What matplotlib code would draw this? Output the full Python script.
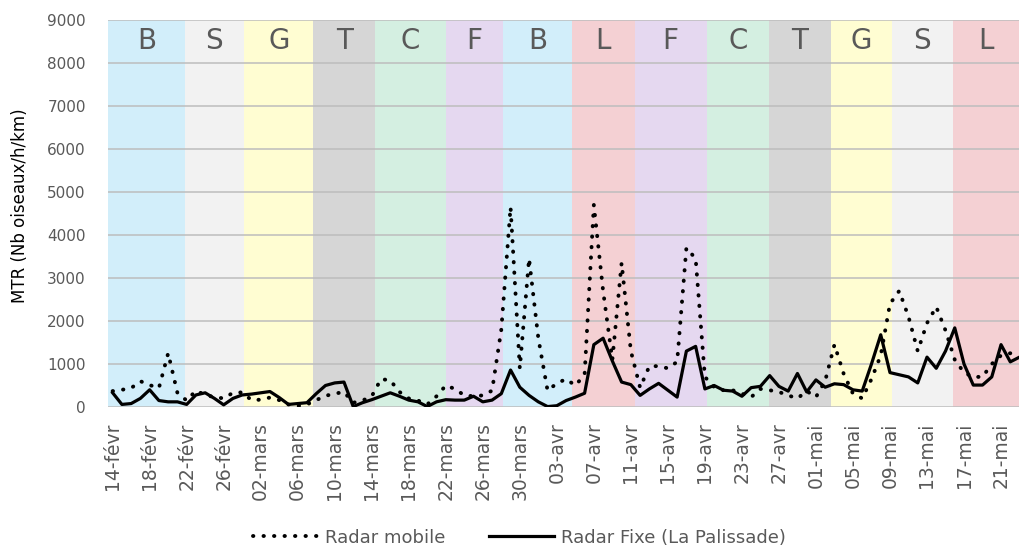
import matplotlib
matplotlib.use("Agg")
import matplotlib.pyplot as plt
import pandas as pd

plt.rcParams.update({
    "font.family": "DejaVu Sans",
    "text.color": "#595959",
    "xtick.color": "#595959",
    "ytick.color": "#595959",
})

# daily series, 14 Feb -> 23 May
start = "2023-02-14"
mobile = [370, 400, 440, 600, 510, 440, 1250, 330, 150, 380,
          280, 230, 200, 330, 340, 160, 170, 220, 160, 60,
          20, 60, 160, 260, 310, 350, 100, 150, 250, 650,
          620, 350, 200, 150, 60, 250, 500, 420, 270, 250,
          270, 380, 1800, 4650, 900, 3450, 1600, 380, 550, 650,
          500, 750, 4700, 2700, 1100, 3350, 1300, 450, 950, 950,
          900, 1050, 3700, 3450, 700, 460, 390, 390, 310, 230,
          420, 390, 350, 270, 200, 370, 230, 610, 1450, 770,
          310, 200, 650, 1200, 2400, 2700, 2100, 1300, 1950, 2330,
          1780, 1100, 800, 700, 700, 1000, 1200, 1250, 1300]
fixe = [330, 60, 80, 200, 400, 150, 120, 120, 60, 280,
        330, 200, 50, 200, 280, 300, 330, 360, 220, 60,
        80, 100, 310, 500, 560, 580, 10, 100, 170, 250,
        330, 250, 160, 120, 10, 120, 170, 160, 160, 250,
        120, 160, 310, 860, 460, 270, 120, 10, 30, 150,
        230, 320, 1450, 1600, 1070, 580, 520, 270, 420, 550,
        390, 230, 1300, 1410, 420, 500, 390, 370, 250, 450,
        480, 730, 480, 370, 780, 350, 630, 460, 540, 520,
        400, 370, 1000, 1680, 800, 750, 700, 560, 1160, 900,
        1300, 1840, 1000, 510, 510, 700, 1450, 1050, 1160]

# weekly periods (start as day index from 14 Feb) and their letter
band_start = [-0.5, 7.8, 14.2, 21.7, 28.4, 36.0, 42.2, 49.6, 56.4, 64.2, 70.9, 77.6, 84.2, 90.8]
band_letter = ["B", "S", "G", "T", "C", "F", "B", "L", "F", "C", "T", "G", "S", "L"]
band_color = {
    "B": "#d2eefa", "S": "#f2f2f2", "G": "#fffdd2", "T": "#d6d6d6",
    "C": "#d4efe1", "F": "#e5d8f0", "L": "#f4d0d3",
}

MOIS = {2: "févr", 3: "mars", 4: "avr", 5: "mai"}
dates = pd.date_range(start, periods=len(mobile), freq="D")
days = list(range(len(mobile)))
tick_days = days[::4]
tick_labels = [f"{dates[i].day:02d}-{MOIS[dates[i].month]}" for i in tick_days]

fig = plt.figure(figsize=(10.2, 5.51), dpi=100)
ax = fig.add_axes([108 / 1020, 144 / 551, 912 / 1020, 387 / 551])

x_end = 98.05
edges = band_start + [x_end + 1]
for i, letter in enumerate(band_letter):
    ax.axvspan(edges[i], edges[i + 1], color=band_color[letter], lw=0, zorder=0)
    mid = (max(edges[i], -0.5) + min(edges[i + 1], x_end)) / 2
    ax.text(mid, 8500, letter, ha="center", va="center", fontsize=20, color="#595959")

ax.plot(days, mobile, color="black", lw=2.8, linestyle=(0, (0.1, 2.6)),
        dash_capstyle="round", label="Radar mobile", zorder=3)
ax.plot(days, fixe, color="black", lw=2.3, label="Radar Fixe (La Palissade)", zorder=3)

ax.set_xlim(-0.5, x_end)
ax.set_ylim(0, 9000)
ax.set_yticks(range(0, 9001, 1000))
ax.yaxis.grid(True, color="#bdbdbd", lw=1.1)
ax.set_axisbelow("line")
for s in ax.spines.values():
    s.set_visible(False)

ax.set_xticks(tick_days)
ax.set_xticklabels(tick_labels, rotation=90, fontsize=13.5)
ax.tick_params(axis="x", length=0, pad=11)
ax.tick_params(axis="y", length=0, pad=16, labelsize=11)

ax.set_ylabel("MTR (Nb oiseaux/h/km)", fontsize=12)
ax.yaxis.set_label_coords(-0.087, 0.52)

fig.legend(loc="center", bbox_to_anchor=(0.509, 0.024), ncol=2, frameon=False,
           fontsize=13, handlelength=3.6, handletextpad=0.4, columnspacing=2.4)

fig.savefig("out.png", dpi=100)
